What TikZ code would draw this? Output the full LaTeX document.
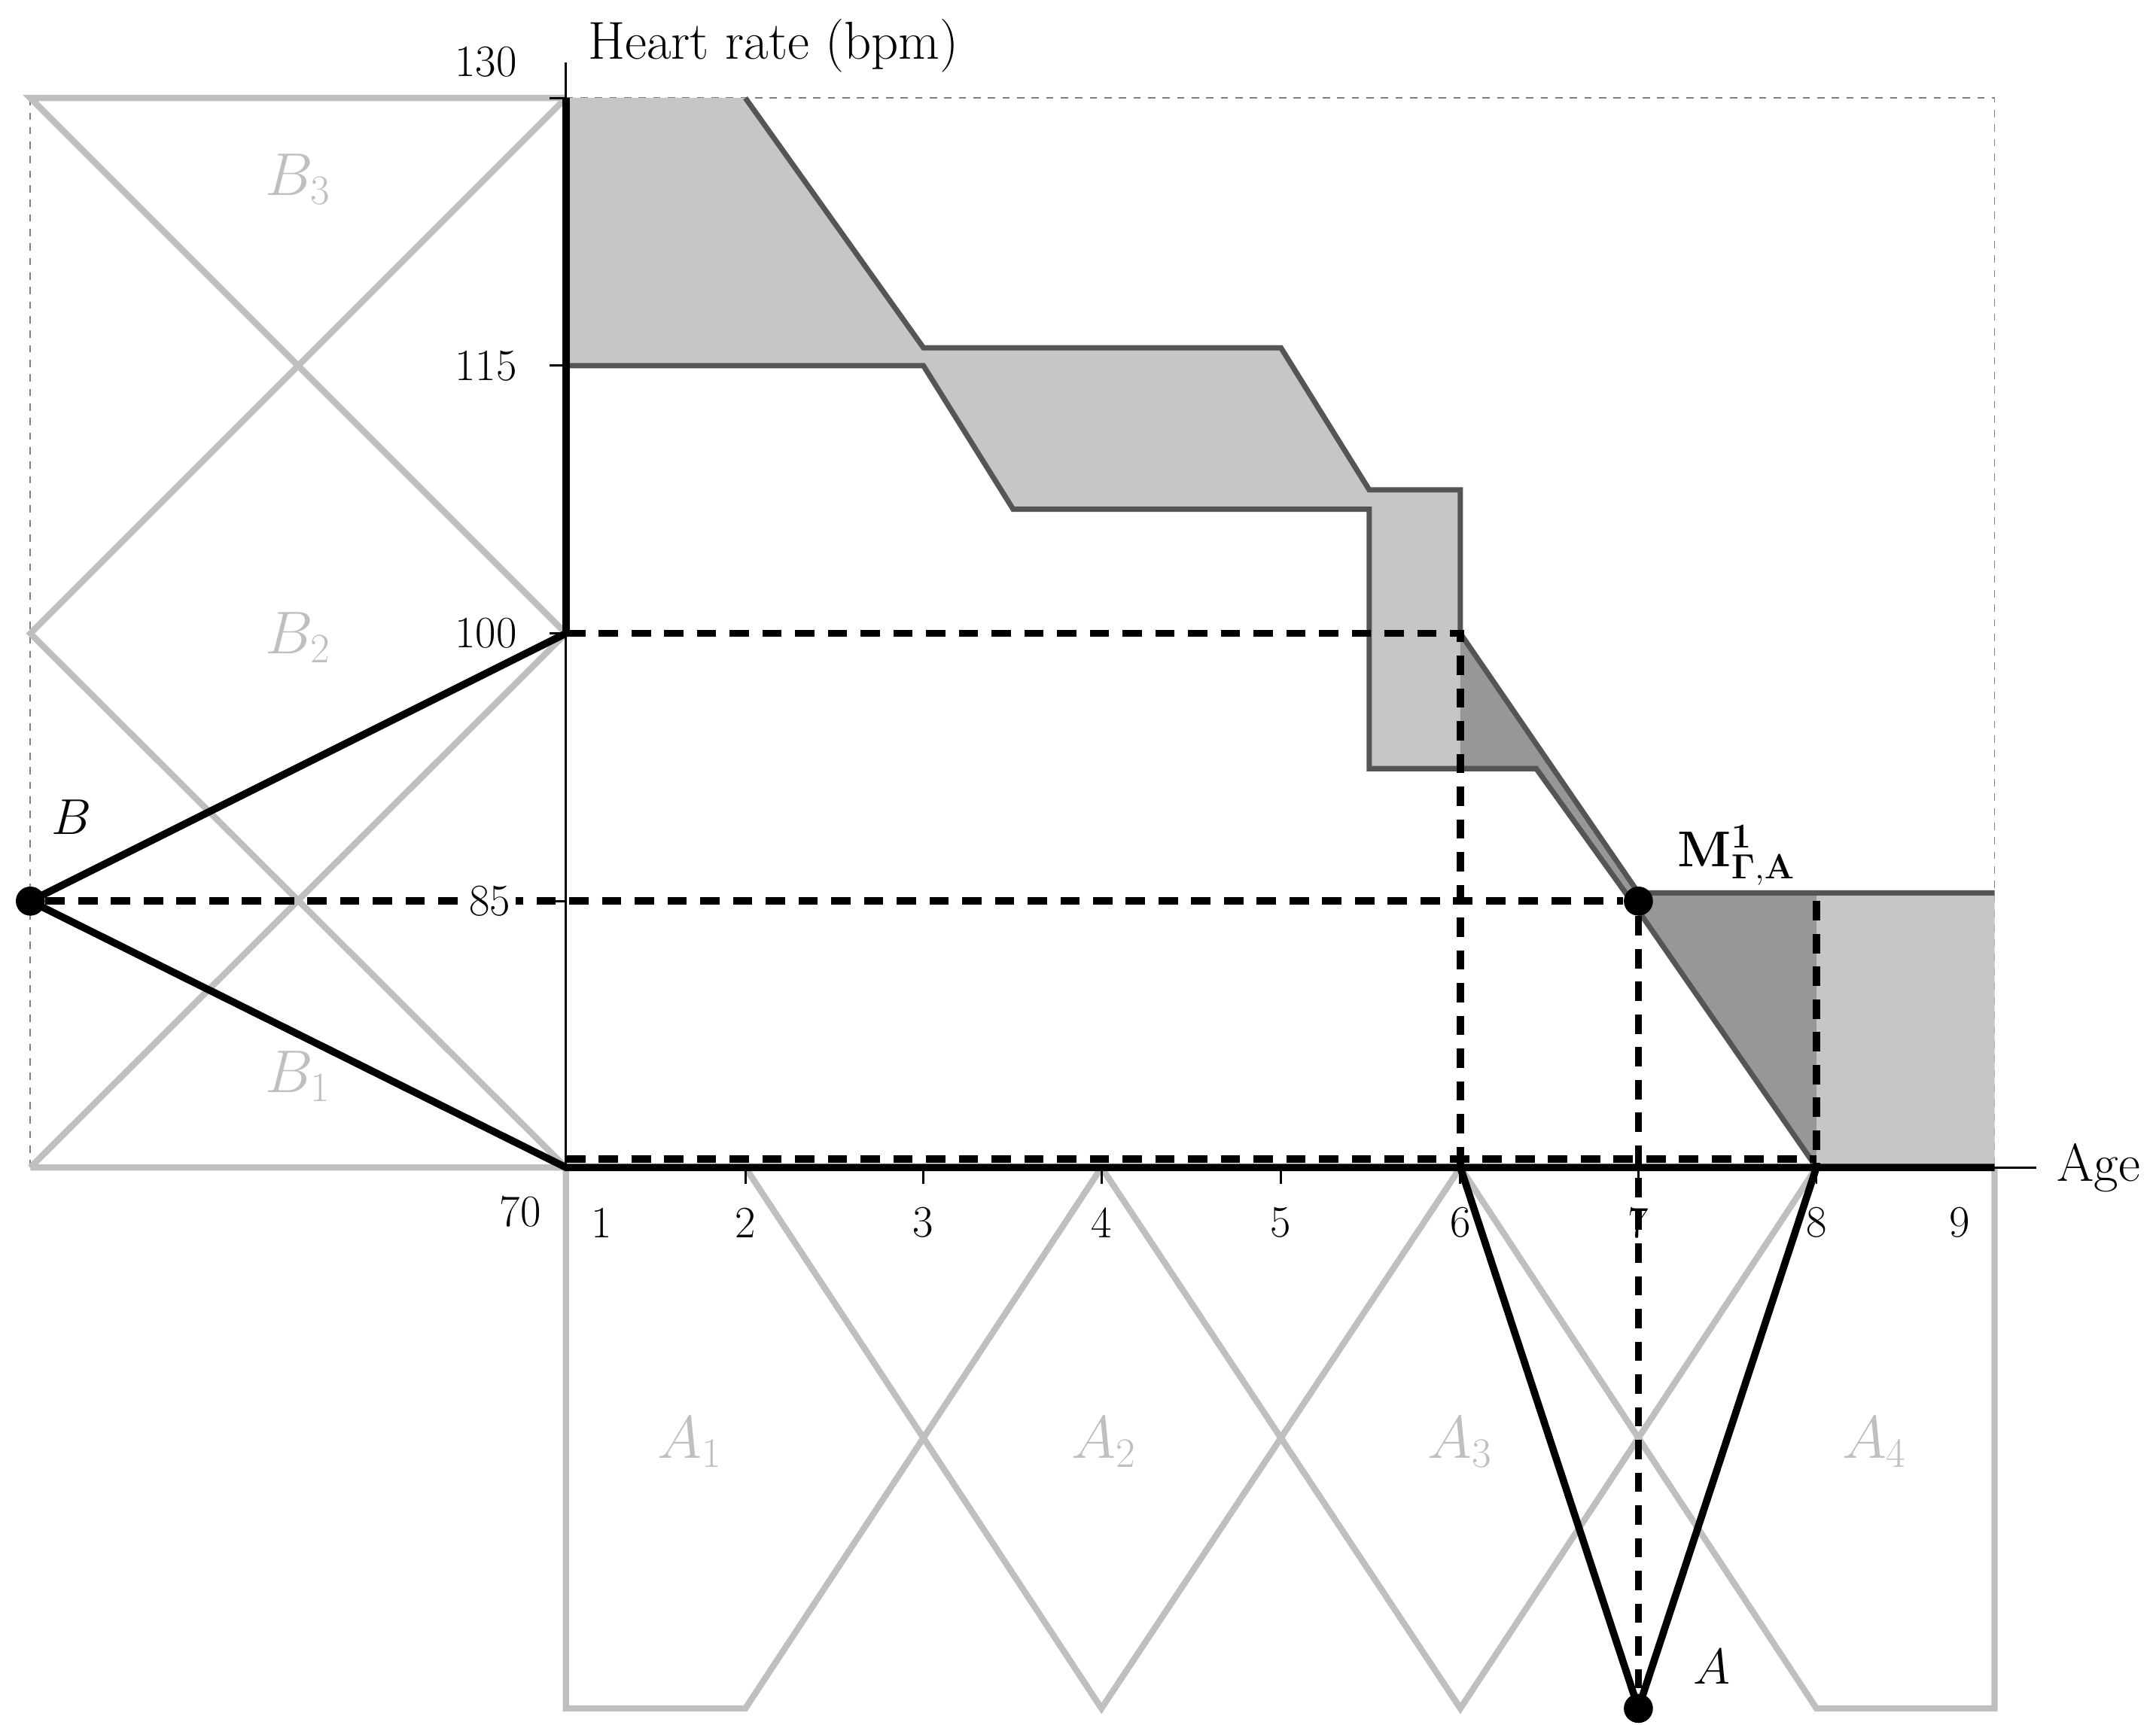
\documentclass[tikz,border=0pt]{standalone}
\begin{document}
\begin{tikzpicture}[x=0.02cm,y=-0.02cm,
  fz/.style={draw=fzgray,line width=2.6pt},
  thk/.style={line width=3pt,black},
  dsh/.style={line width=3pt,dash pattern=on 8pt off 5.5pt},
  ol/.style={draw=olgray,line width=2.2pt,line join=miter},
  lbl/.style={font=\fontsize{22}{24}\selectfont},
  num/.style={font=\fontsize{18.5}{20}\selectfont},
  fzl/.style={text=fzgray,font=\fontsize{23}{25}\selectfont},
  dot/.style={circle,fill=black,inner sep=0pt,minimum size=12pt}]
\definecolor{fzgray}{HTML}{BFBFBF}
\definecolor{olgray}{HTML}{555555}
\definecolor{lt}{HTML}{C6C6C6}
\definecolor{dk}{HTML}{979797}
\useasboundingbox (0,0) rectangle (1562,1250);
% frame
\draw[gray,dashed,line width=0.6pt] (22,71) -- (22,846) (410,71) -- (1445,71) -- (1445,846);
% fills
\fill[lt] (410,71) -- (540,71) -- (669,252) -- (928,252) -- (992,355) -- (1058,355) -- (1058,459) -- (1187,647) -- (1445,647) -- (1445,846) -- (1316,846) -- (1187,660) -- (1113,557) -- (992,557) -- (992,369) -- (734,369) -- (669,265) -- (410,265) -- cycle;
\fill[dk] (1058,459) -- (1058,557) -- (1113,557) -- (1187,658) -- (1187,647) -- cycle;
\fill[dk] (1187,647) -- (1316,647) -- (1316,846) -- (1187,660) -- cycle;
\draw[ol] (540,71) -- (669,252) -- (928,252) -- (992,355) -- (1058,355) -- (1058,459) -- (1187,647) -- (1445,647);
\draw[ol] (410,265) -- (669,265) -- (734,369) -- (992,369) -- (992,557) -- (1113,557) -- (1187,660) -- (1316,846);
% B fuzzy sets
\draw[fz] (22,846) -- (410,846) (22,846) -- (410,459) (410,846) -- (22,459) -- (410,71) (410,459) -- (22,71) -- (410,71);
% A fuzzy sets
\draw[fz] (410,846) -- (410,1238) -- (540,1238) -- (798,846) (540,846) -- (798,1238) -- (1058,846) (798,846) -- (1058,1238) -- (1316,846) (1058,846) -- (1316,1238) -- (1445,1238) -- (1445,846);
\node[fzl] (b3) at (216,130) {$B_3$};
\node[fzl] (b2) at (216,462) {$B_2$};
\node[fzl] (b1) at (216,780) {$B_1$};
\node[fzl] (a1) at (500,1045) {$A_1$};
\node[fzl] (a2) at (800,1045) {$A_2$};
\node[fzl] (a3) at (1058,1045) {$A_3$};
\node[fzl] (a4) at (1358,1045) {$A_4$};
% axes
\coordinate (O) at (410,846);
\coordinate (ytop) at (410,45);
\coordinate (xend) at (1475,846);
\draw[line width=0.9pt] (O) -- (ytop) (O) -- (xend);
\foreach \y in {653,459,265,71}{
  \draw[line width=0.9pt] (398,\y) -- (410,\y);}
\foreach \x in {540,669,798,928,1058,1187,1316}{
  \draw[line width=0.9pt] (\x,846) -- (\x,858);}
% thick black
\coordinate (c130) at (410,71);
\coordinate (c100) at (410,459);
\node[dot] (B) at (22,653) {};
\node[dot] (A) at (1187,1238) {};
\node[dot] (M) at (1187,653) {};
\coordinate (x6) at (1058,846);
\coordinate (x8) at (1316,846);
\coordinate (x9) at (1445,846);
\draw[thk] (c130) -- (c100);
\draw[thk] (B.center) -- (c100) (B.center) -- (O) -- (x9);
\draw[thk] (x6) -- (A.center) -- (x8);
% dashed
\draw[dsh] (B) -- (M);
\draw[dsh] (c100) -- (1058,459) -- (1058,846);
\draw[dsh] (M) -- (A);
\draw[dsh] (410,840) -- (1316,840);
\draw[dsh] (1316,653) -- (1316,846);
% labels
\node[num] (l130) at (352,45) {130};
\node[num,fill=white,inner sep=1pt] (l115) at (352,265) {115};
\node[num,fill=white,inner sep=1pt] (l100) at (352,459) {100};
\node[num,fill=white,inner sep=2pt] (l85) at (355,653) {85};
\node[num] (l70) at (377,878) {70};
\foreach \x/\t in {436/1,540/2,669/3,798/4,928/5,1058/6,1187/7,1316/8,1420/9}{
  \node[num] at (\x,886) {\t};}
\node[lbl,anchor=west] (hr) at (420,33) {Heart rate (bpm)};
\node[lbl,anchor=west] (age) at (1484,846) {Age};
\node[lbl] (Bl) at (52,592) {$B$};
\node[lbl] (Al) at (1240,1208) {$A$};
\node[lbl] (Ml) at (1258,620) {$\mathbf{M^1_{\Gamma,A}}$};
\end{tikzpicture}
\end{document}
